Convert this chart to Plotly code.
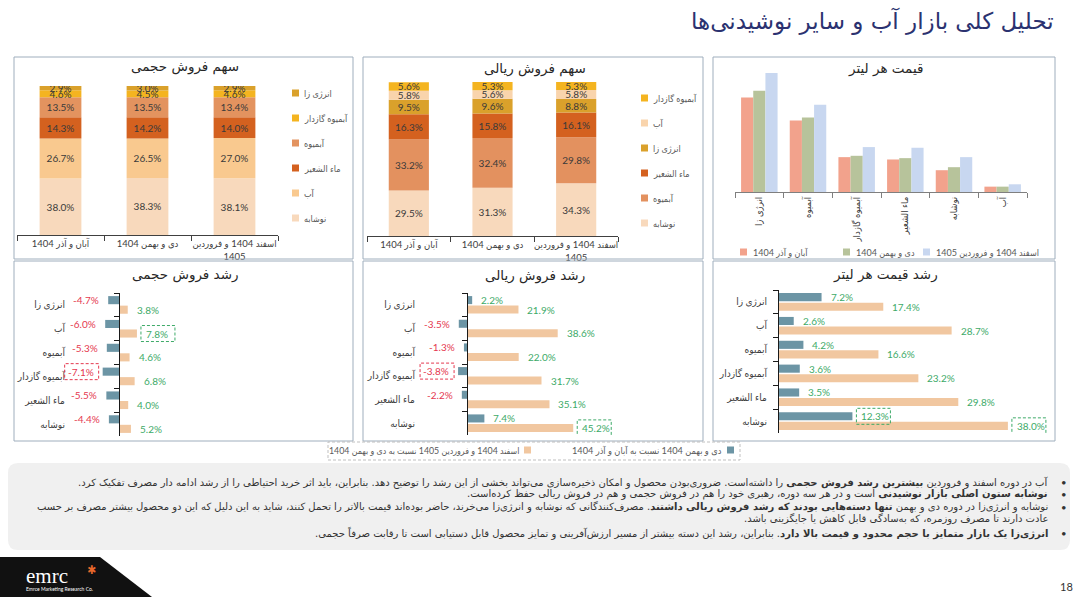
import numpy as np
import plotly.graph_objects as go

W, H = 1080, 597
FONT = "Lato, DejaVu Sans Condensed, DejaVu Sans, sans-serif"
WIDE = "DejaVu Sans, sans-serif"
RED = "#E5384F"
GREEN = "#3DAA68"

PERIODS = ["آبان و آذر 1404", "دی و بهمن 1404", "اسفند 1404 و فروردین<br>1405"]
PRICE_PERIODS = ["آبان و آذر 1404", "دی و بهمن 1404", "اسفند 1404 و فروردین 1405"]

# share of volume sales, stack order bottom -> top
VOL_CATS = ["نوشابه", "آب", "ماء الشعیر", "آبمیوه", "آبمیوه گازدار", "انرژی زا"]
VOL_SHARE = [
    [38.0, 38.3, 38.1],
    [26.7, 26.5, 27.0],
    [14.3, 14.2, 14.0],
    [13.5, 13.5, 13.4],
    [4.6, 4.5, 4.6],
    [2.9, 3.0, 2.9],
]
VOL_COLORS = ["#F8D9BC", "#F9C98F", "#D4611F", "#E3935F", "#F4B420", "#DAA12B"]

# share of rial sales, stack order bottom -> top
RIAL_CATS = ["نوشابه", "آبمیوه", "ماء الشعیر", "انرژی زا", "آب", "آبمیوه گازدار"]
RIAL_SHARE = [
    [29.5, 31.3, 34.3],
    [33.2, 32.4, 29.8],
    [16.3, 15.8, 16.1],
    [9.5, 9.6, 8.8],
    [5.8, 5.6, 5.8],
    [5.6, 5.3, 5.3],
]
RIAL_COLORS = ["#F8D9BC", "#E3915F", "#D4611F", "#DAA12B", "#F9D4AC", "#F4B420"]

# price per litre (relative units)
PRICE_CATS = ["انرژی زا", "آبمیوه", "آبمیوه گازدار", "ماء الشعیر", "نوشابه", "آب"]
PRICE_P1 = [282, 213, 104, 97, 65, 16]
PRICE_P2 = [302, 222, 108, 101, 74, 16]
PRICE_P3 = [355, 260, 134, 132, 104, 23]
PRICE_COLORS = ["#F2A28C", "#B7C39B", "#C8D7F0"]

# growth charts
GROWTH_CATS = ["انرژی زا", "آب", "آبمیوه", "آبمیوه گازدار", "ماء الشعیر", "نوشابه"]
GROWTH_SERIES = ["دی و بهمن 1404 نسبت به آبان و آذر 1404",
                 "اسفند 1404 و فروردین 1405 نسبت به دی و بهمن 1404"]
GROWTH_COLORS = ["#6C95A5", "#F1C7A0"]
VOL_GROWTH_1 = [-4.7, -6.0, -5.3, -7.1, -5.5, -4.4]
VOL_GROWTH_2 = [3.8, 7.8, 4.6, 6.8, 4.0, 5.2]
RIAL_GROWTH_1 = [2.2, -3.5, -1.3, -3.8, -2.2, 7.4]
RIAL_GROWTH_2 = [21.9, 38.6, 22.0, 31.7, 35.1, 45.2]
PRICE_GROWTH_1 = [7.2, 2.6, 4.2, 3.6, 3.5, 12.3]
PRICE_GROWTH_2 = [17.4, 28.7, 16.6, 23.2, 29.8, 38.0]

TITLE = "تحلیل کلی بازار آب و سایر نوشیدنی‌ها"
RLM = "\u200f"
NOTES = [
    "آب در دوره اسفند و فروردین <b>بیشترین رشد فروش حجمی</b> را داشته‌است. ضروری‌بودن محصول و امکان ذخیره‌سازی می‌تواند بخشی از این رشد را توضیح دهد. بنابراین، باید اثر خرید احتیاطی را از رشد ادامه دار مصرف تفکیک کرد.",
    "<b>نوشابه ستون اصلی بازار نوشیدنی</b> است و در هر سه دوره، رهبری خود را هم در فروش حجمی و هم در فروش ریالی حفظ کرده‌است.",
    "نوشابه و انرژی‌زا در دوره دی و بهمن <b>تنها دسته‌هایی بودند که رشد فروش ریالی داشتند</b>. مصرف‌کنندگانی که نوشابه و انرژی‌زا می‌خرند، حاضر بوده‌اند قیمت بالاتر را تحمل کنند، شاید به این دلیل که این دو محصول بیشتر مصرف بر حسب",
    "عادت دارند تا مصرف روزمره، که به‌سادگی قابل کاهش یا جایگزینی باشد.",
    "<b>انرژی‌زا یک بازار متمایز با حجم محدود و قیمت بالا دارد</b>. بنابراین، رشد این دسته بیشتر از مسیر ارزش‌آفرینی و تمایز محصول قابل دستیابی است تا رقابت صرفاً حجمی.",
]
NOTE_Y = [482, 494, 507, 519, 533]
NOTE_BULLET = [True, True, True, False, True]


def px_x(p):
    return p / W


def px_y(p):
    return 1 - p / H


fig = go.Figure()
shapes = []
annotations = []


def label(x, y, text, size=10, color="#404040", xanchor="center", family=FONT, **kw):
    annotations.append(dict(
        x=px_x(x), y=px_y(y), xref="paper", yref="paper", text=text,
        showarrow=False, xanchor=xanchor, yanchor="middle",
        font=dict(size=size, color=color, family=family), **kw,
    ))


def square(x, y, color, size=7):
    shapes.append(dict(
        type="rect", xref="paper", yref="paper",
        x0=px_x(x), x1=px_x(x + size), y0=px_y(y + size / 2), y1=px_y(y - size / 2),
        fillcolor=color, line_width=0,
    ))


def box(x0, y0, x1, y1, color="#9FAEBD", dash="solid", width=1):
    shapes.append(dict(
        type="rect", xref="paper", yref="paper",
        x0=px_x(x0), x1=px_x(x1), y0=px_y(y1), y1=px_y(y0),
        line=dict(color=color, width=width, dash=dash), fillcolor="rgba(0,0,0,0)",
    ))


def share_chart(n, cats, rows, colors, dom_x, dom_y, legend_x, legend_y):
    base = np.zeros(len(PERIODS))
    for name, vals, col in zip(cats, rows, colors):
        vals = np.array(vals)
        fig.add_trace(go.Bar(
            x=PERIODS, y=vals, base=base.copy(), offset=-0.24, width=0.48,
            marker=dict(color=col, line_width=0), name=name,
            text=[f"{v:.1f}%" for v in vals], textposition="inside",
            insidetextanchor="middle", textangle=0, constraintext="none",
            textfont=dict(size=10, color="#3A3A3A", family=FONT),
            xaxis=f"x{n}", yaxis=f"y{n}", showlegend=False, hoverinfo="skip",
        ))
        base = base + vals
    fig.update_layout({
        f"xaxis{n}": dict(
            domain=[px_x(dom_x[0]), px_x(dom_x[1])], anchor=f"y{n}",
            type="category", range=[-0.5, 2.5], showline=True, linecolor="#404040",
            ticks="outside", tickson="boundaries", ticklen=5, tickcolor="#404040",
            tickangle=0, tickfont=dict(size=9.5, color="#404040", family=FONT),
            showgrid=False,
        ),
        f"yaxis{n}": dict(
            domain=[px_y(dom_y[1]), px_y(dom_y[0])], anchor=f"x{n}",
            range=[0, 100], visible=False,
        ),
    })
    # legend, top entry is last stacked series
    for k, (name, col) in enumerate(zip(cats[::-1], colors[::-1])):
        y = legend_y + 25 * k
        square(legend_x, y, col)
        label(legend_x + 10, y, name, size=9, color="#595959", xanchor="left")


def growth_chart(n, s1, s2, dom_x, dom_y, zero_px, scale, standoff):
    xr = [(dom_x[0] - zero_px) / scale, (dom_x[1] - zero_px) / scale]
    for vals, col, off in ((s1, GROWTH_COLORS[0], -0.37), (s2, GROWTH_COLORS[1], 0.03)):
        fig.add_trace(go.Bar(
            y=GROWTH_CATS, x=vals, orientation="h", offset=off, width=0.34,
            marker=dict(color=col, line_width=0),
            xaxis=f"x{n}", yaxis=f"y{n}", showlegend=False, hoverinfo="skip",
        ))
        hi = int(np.argmin(vals)) if min(vals) < 0 else int(np.argmax(vals))
        for i, v in enumerate(vals):
            yc = i + off + 0.17
            pos = v >= 0
            annotations.append(dict(
                x=v, y=yc, xref=f"x{n}", yref=f"y{n}", text=f"{v:.1f}%",
                showarrow=False, xanchor="left" if pos else "right",
                xshift=7 if pos else -7, yanchor="middle",
                font=dict(size=10, color=GREEN if pos else RED, family=FONT),
            ))
            if i == hi:
                shapes.append(dict(
                    type="rect", xref=f"x{n}", yref=f"y{n}",
                    xsizemode="pixel", xanchor=v,
                    x0=4 if pos else -38, x1=38 if pos else -4,
                    ysizemode="pixel", yanchor=yc, y0=-8, y1=8,
                    line=dict(color=GREEN if pos else RED, width=1, dash="3px,2px"),
                ))
    fig.update_layout({
        f"xaxis{n}": dict(
            domain=[px_x(dom_x[0]), px_x(dom_x[1])], anchor=f"y{n}",
            range=xr, visible=False,
        ),
        f"yaxis{n}": dict(
            domain=[px_y(dom_y[1]), px_y(dom_y[0])], anchor="free",
            position=px_x(zero_px), type="category", categoryorder="array",
            categoryarray=GROWTH_CATS, range=[5.5, -0.5], showline=True,
            linecolor="#1A1A1A", linewidth=1.2, ticks="outside", tickson="boundaries",
            ticklen=5, tickcolor="#1A1A1A", ticklabelstandoff=standoff,
            tickfont=dict(size=10, color="#404040", family=FONT), showgrid=False,
        ),
    })


# panel frames
for x0, x1 in ((14, 353), (363, 703), (713, 1055)):
    box(x0, 57, x1, 259)
    box(x0, 261, x1, 441)

# top row
share_chart(1, VOL_CATS, VOL_SHARE, VOL_COLORS, (17, 278), (86, 235), 292, 93)
share_chart(2, RIAL_CATS, RIAL_SHARE, RIAL_COLORS, (367, 618), (82, 236), 641, 98)

for vals, name, col in zip((PRICE_P1, PRICE_P2, PRICE_P3), PRICE_PERIODS, PRICE_COLORS):
    fig.add_trace(go.Bar(
        x=PRICE_CATS, y=vals, name=name, marker=dict(color=col, line_width=0),
        xaxis="x3", yaxis="y3", showlegend=False, hoverinfo="skip",
    ))
fig.update_layout(
    xaxis3=dict(
        domain=[px_x(735), px_x(1027)], anchor="y3", type="category",
        range=[-0.5, 5.5], showline=True, linecolor="#7F7F7F", ticks="outside",
        tickson="boundaries", ticklen=5, tickcolor="#7F7F7F", tickangle=-90,
        tickfont=dict(size=9.5, color="#404040", family=FONT), showgrid=False,
    ),
    yaxis3=dict(domain=[px_y(192), px_y(73)], anchor="x3", range=[0, 355], visible=False),
)
for x, name, col in zip((740, 843, 923), PRICE_PERIODS, PRICE_COLORS):
    square(x, 252, col)
    label(x + 11, 252, name, size=9, color="#595959", xanchor="left")

# bottom row
growth_chart(4, VOL_GROWTH_1, VOL_GROWTH_2, (40, 345), (293, 436), 119, 2.3, 52)
growth_chart(5, RIAL_GROWTH_1, RIAL_GROWTH_2, (390, 695), (293, 435), 467, 2.35, 50)
growth_chart(6, PRICE_GROWTH_1, PRICE_GROWTH_2, (740, 1050), (290, 433), 778, 6.05, 9)

# chart titles
for x, y, t in ((185, 67, "سهم فروش حجمی"), (535, 69, "سهم فروش ریالی"), (885, 69, "قیمت هر لیتر"),
                (185, 274, "رشد فروش حجمی"), (535, 275, "رشد فروش ریالی"), (885, 274, "رشد قیمت هر لیتر")):
    label(x, y, t, size=13.5, color="#262626", family=WIDE)

# growth legend
box(328, 442, 740, 460, color="#BFBFBF", dash="3px,2px")
square(524, 450, GROWTH_COLORS[1])
label(521, 450, GROWTH_SERIES[1], size=8.8, color="#595959", xanchor="right")
square(727, 450, GROWTH_COLORS[0])
label(724, 450, GROWTH_SERIES[0], size=9.2, color="#595959", xanchor="right")

# notes box
r = 10
x0, x1, y0, y1 = px_x(8), px_x(1070), px_y(463), px_y(550)
rx, ry = r / W, r / H
shapes.append(dict(
    type="path", xref="paper", yref="paper", layer="below",
    path=(f"M {x0 + rx},{y0} L {x1 - rx},{y0} Q {x1},{y0} {x1},{y0 - ry} "
          f"L {x1},{y1 + ry} Q {x1},{y1} {x1 - rx},{y1} L {x0 + rx},{y1} "
          f"Q {x0},{y1} {x0},{y1 + ry} L {x0},{y0 - ry} Q {x0},{y0} {x0 + rx},{y0} Z"),
    fillcolor="#F0F0F0", line_width=0,
))
for text, y, bullet in zip(NOTES, NOTE_Y, NOTE_BULLET):
    label(1050, y, text + RLM, size=10, color="#333333", xanchor="right", family=WIDE)
    if bullet:
        label(1064, y, "•", size=9.5, color="#333333")

# page title, footer
label(1056, 21, TITLE, size=23, color="#2B3270", xanchor="right", family=WIDE)
fx = [px_x(v) for v in (0, 100, 152)]
shapes.append(dict(
    type="path", xref="paper", yref="paper",
    path=f"M {fx[0]},{px_y(557)} L {fx[1]},{px_y(557)} L {fx[2]},0 L {fx[0]},0 Z",
    fillcolor="#111111", line_width=0,
))
annotations.append(dict(
    x=px_x(24), y=px_y(576), xref="paper", yref="paper", text="emrc", showarrow=False,
    xanchor="left", yanchor="middle", font=dict(size=21, color="white", family="Liberation Serif"),
))
label(91, 569, "✱", size=12, color="#E9692C")
label(24, 589, "Emrce Marketing Research Co.", size=5, color="white", xanchor="left")
label(1066, 586, "18", size=11, color="#333333")

fig.update_layout(
    width=W, height=H, margin=dict(l=0, r=0, t=0, b=0),
    paper_bgcolor="white", plot_bgcolor="rgba(0,0,0,0)",
    barmode="group", bargap=0.25, bargroupgap=0,
    font=dict(family=FONT, color="#404040"),
    showlegend=False,
    shapes=shapes, annotations=annotations,
)

fig.write_html("out.html", config={"displayModeBar": False},
               post_script="document.body.style.margin='0';document.body.style.overflow='hidden';")
